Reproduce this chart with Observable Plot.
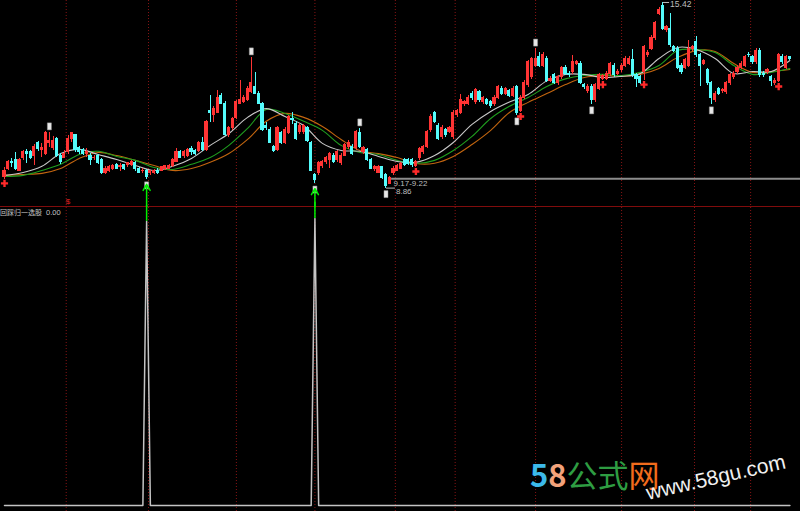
<!DOCTYPE html>
<html>
<head>
<meta charset="utf-8">
<script src="https://cdn.jsdelivr.net/npm/d3@7"></script>
<script src="https://cdn.jsdelivr.net/npm/@observablehq/plot@0.6"></script>
<style>
  html, body { margin: 0; padding: 0; background: #000; }
  #wrap { position: relative; width: 800px; height: 511px; overflow: hidden; background: #000; }
  #divider { position: absolute; left: 0; top: 206px; width: 800px; height: 1px; background: #800c0c; }
  #top, #bottom { position: absolute; left: 0; }
  #top { top: 0; }
  #bottom { top: 207px; }
  #ind-label { position: absolute; left: 0; top: 207px; color: #c4c4c4; font: 7px "Noto Sans CJK SC", sans-serif; white-space: nowrap; }
  #ind-label .num { font-family: "Liberation Sans", sans-serif; font-size: 7.5px; margin-left: 4px; }
  #brand { position: absolute; left: 0; top: 0; pointer-events: none; }
</style>
</head>
<body>
<div id="wrap">
  <div id="divider"></div>
  <div id="top"></div>
  <div id="bottom"></div>
  <div id="ind-label">回踩归一选股<span class="num">0.00</span></div>
  <svg id="brand" width="800" height="511">
    <text x="530" y="487" font-family="Noto Sans CJK SC" font-size="31" font-weight="bold"><tspan fill="#3cb9ea">5</tspan><tspan fill="#f3a27a">8</tspan><tspan fill="#2e9c42" font-weight="normal">公式</tspan><tspan fill="#f26c1c" font-weight="normal">网</tspan></text>
    <text x="648" y="500" transform="rotate(-13 648 500)" font-family="Liberation Sans" font-size="21" fill="#f0f0f0">www.58gu.com</text>
  </svg>
</div>
<script>
// Daily bars, one entry per trading day (index 0..210)
const opens = [
  9.27,9.55,9.80,9.84,9.48,9.91,10.12,10.12,10.01,10.44,
  10.19,10.08,10.47,10.26,10.61,10.01,9.94,10.12,10.61,10.72,
  10.26,10.19,10.08,9.98,9.91,9.98,9.84,9.41,9.45,9.55,
  9.66,9.59,9.66,9.66,9.66,9.73,9.55,9.45,9.48,9.38,
  9.38,9.48,9.48,9.52,9.55,9.63,9.80,10.12,9.98,10.01,
  10.23,10.16,10.16,10.47,10.19,11.60,11.43,11.53,12.13,11.85,
  10.72,10.97,11.32,11.85,11.89,11.96,12.24,12.45,12.20,11.85,
  11.07,10.93,10.30,10.19,10.79,10.47,10.79,11.29,11.14,10.83,
  10.83,10.97,10.44,9.31,9.38,9.63,9.77,9.84,10.01,9.84,
  9.73,10.01,10.30,10.33,10.26,10.79,10.12,10.19,9.84,9.52,
  9.41,9.59,9.31,9.02,9.38,9.48,9.55,9.84,9.84,9.84,
  9.63,9.91,10.12,10.33,10.90,11.50,11.07,10.65,10.90,10.86,
  10.65,11.43,11.50,11.82,11.85,12.20,11.89,12.24,11.89,11.96,
  11.89,11.82,12.06,12.38,12.20,12.28,12.13,12.42,11.60,12.06,
  12.49,12.77,13.19,13.48,13.19,13.44,12.66,12.84,12.56,12.77,
  13.12,12.91,12.95,13.26,13.26,12.49,12.28,12.45,11.96,12.38,
  12.73,12.73,12.88,13.19,12.91,13.02,13.19,13.26,13.37,12.84,
  12.77,12.95,13.55,13.79,14.15,15.03,15.31,14.43,14.50,13.83,
  13.79,13.19,13.12,13.19,13.76,14.01,13.55,13.26,13.02,12.56,
  11.96,12.35,12.28,12.24,12.56,12.77,12.95,13.12,13.19,13.58,
  13.48,13.30,13.72,12.91,12.95,12.77,12.56,12.66,13.51,13.12,
  13.48
];
const highs = [
  9.59,9.84,9.91,10.12,9.91,10.19,10.23,10.19,10.40,10.51,
  10.44,10.86,10.83,10.69,10.65,10.08,10.19,10.72,10.83,10.76,
  10.33,10.26,10.26,10.08,10.01,10.05,9.91,9.63,9.66,9.70,
  9.73,9.73,9.70,9.77,9.84,9.80,9.59,9.55,9.52,9.48,
  9.52,9.55,9.63,9.66,9.70,9.91,10.26,10.19,10.19,10.26,
  10.33,10.23,10.51,10.65,11.25,12.13,11.75,12.31,12.20,11.92,
  11.04,11.36,11.96,12.66,12.13,12.45,13.48,12.95,12.28,11.89,
  11.18,11.00,10.37,11.04,10.86,11.00,11.43,11.53,11.22,11.14,
  11.11,11.04,10.51,9.38,9.80,9.84,9.98,10.12,10.08,10.19,
  10.08,10.44,10.54,10.40,10.90,10.97,10.33,10.26,9.91,9.66,
  9.66,9.63,9.38,9.27,9.63,9.70,9.77,9.91,9.91,9.91,
  9.84,10.30,10.37,10.90,11.46,11.57,11.14,11.07,10.97,11.04,
  11.60,11.64,12.17,11.96,12.13,12.28,12.38,12.31,12.10,12.03,
  11.96,12.13,12.49,12.45,12.42,12.35,12.45,12.49,12.13,12.66,
  13.37,13.48,13.79,13.65,13.65,13.51,12.81,12.91,12.84,13.16,
  13.19,12.98,13.55,13.37,13.34,12.56,12.52,12.52,12.56,12.91,
  12.88,12.98,13.30,13.26,13.05,13.26,13.51,13.51,13.76,12.91,
  12.84,13.90,13.72,14.25,14.75,15.24,15.42,14.61,15.03,13.90,
  13.87,13.26,13.44,14.08,13.90,14.22,13.62,13.41,13.09,12.63,
  12.28,12.42,12.38,12.63,12.91,12.98,13.19,13.34,13.55,13.65,
  13.55,13.79,13.79,12.98,13.09,12.84,12.73,13.62,13.58,13.55,
  13.51
];
const lows = [
  9.17,9.48,9.59,9.48,9.45,9.84,9.73,9.87,9.66,10.16,
  9.94,10.01,10.30,10.19,9.94,9.70,9.91,10.05,10.47,10.12,
  10.05,10.01,9.94,9.66,9.84,9.70,9.34,9.34,9.41,9.48,
  9.52,9.45,9.48,9.59,9.63,9.45,9.38,9.38,9.17,9.31,
  9.34,9.34,9.45,9.48,9.52,9.59,9.77,9.91,9.91,9.94,
  10.01,10.01,10.12,10.16,10.16,11.18,11.18,11.50,11.82,10.69,
  10.65,10.90,11.29,11.82,11.85,11.92,12.20,12.17,11.82,10.86,
  10.90,10.44,10.12,10.16,10.40,10.40,10.76,11.11,10.54,10.76,
  10.76,10.47,9.45,9.02,9.31,9.55,9.70,9.55,9.73,9.77,
  9.66,9.98,10.23,10.01,10.19,10.26,10.05,9.80,9.52,9.45,
  9.38,9.17,8.86,8.99,9.31,9.45,9.52,9.63,9.66,9.59,
  9.59,9.84,10.05,10.26,10.83,11.14,10.54,10.58,10.65,10.79,
  10.58,11.36,11.46,11.75,11.78,11.96,11.82,11.89,11.82,11.78,
  11.67,11.75,11.99,12.13,12.13,12.06,12.06,11.43,11.53,11.99,
  12.42,12.70,13.12,13.12,13.12,12.59,12.59,12.52,12.49,12.70,
  12.84,12.77,12.88,13.19,12.52,12.35,12.20,11.82,11.89,12.31,
  12.66,12.66,12.81,12.77,12.84,12.95,13.12,13.19,12.77,12.42,
  12.52,12.66,13.48,13.72,14.08,14.96,14.43,14.36,13.83,13.65,
  13.05,12.88,13.05,13.12,13.69,13.48,12.45,13.19,12.49,11.82,
  11.89,12.13,12.20,12.17,12.49,12.70,12.88,13.05,13.12,13.48,
  13.23,13.23,12.77,12.77,12.88,12.45,12.49,12.59,13.23,13.05,
  13.37
];
const closes = [
  9.48,9.77,9.73,9.55,9.84,10.12,10.05,9.94,10.30,10.23,
  10.26,10.79,10.54,10.54,10.01,9.77,10.08,10.61,10.79,10.19,
  10.12,10.08,10.12,9.87,9.94,9.73,9.38,9.55,9.59,9.63,
  9.55,9.63,9.55,9.73,9.77,9.52,9.41,9.48,9.27,9.45,
  9.48,9.41,9.59,9.63,9.63,9.84,10.12,9.94,10.12,10.19,
  10.12,10.08,10.44,10.19,11.18,11.50,11.67,12.06,11.85,10.72,
  10.97,11.29,11.89,11.99,12.06,12.38,12.59,12.20,11.85,10.90,
  10.97,10.47,10.16,10.97,10.47,10.93,11.36,11.25,10.61,11.07,
  11.04,10.54,9.48,9.13,9.73,9.77,9.91,10.05,9.77,10.12,
  10.01,10.37,10.44,10.08,10.83,10.30,10.26,9.84,9.55,9.59,
  9.59,9.20,8.95,9.20,9.55,9.63,9.70,9.66,9.70,9.66,
  9.77,10.23,10.30,10.83,11.39,11.18,10.61,11.00,10.72,10.97,
  11.53,11.57,11.96,11.89,12.06,12.03,12.31,11.96,12.03,11.85,
  11.75,12.06,12.42,12.20,12.35,12.13,12.38,11.50,12.06,12.59,
  13.30,13.41,13.44,13.19,13.58,12.66,12.73,12.59,12.77,13.09,
  12.91,12.84,13.30,13.30,12.59,12.42,12.45,11.96,12.49,12.84,
  12.81,12.91,13.23,12.84,12.98,13.19,13.44,13.44,12.84,12.73,
  12.59,13.83,13.65,14.18,14.68,15.17,14.50,14.54,13.90,13.72,
  13.12,12.95,13.37,13.79,13.83,13.55,13.19,13.34,12.56,12.03,
  12.20,12.20,12.31,12.56,12.84,12.91,13.12,13.26,13.48,13.55,
  13.30,13.72,12.84,12.84,13.02,12.63,12.66,13.55,13.30,13.48,
  13.44
];

// Moving-average readings, sampled every 5 bars
const maIndex = [0,5,10,15,20,25,30,35,40,45,50,55,60,65,70,75,80,85,90,95,100,105,110,115,120,125,130,135,140,145,150,155,160,165,170,175,180,185,190,195,200,205,210];
const maFast = [9.31,9.41,9.63,10.08,10.23,10.05,9.87,9.66,9.48,9.63,9.91,10.37,10.79,11.36,11.67,11.39,11.07,10.44,10.19,10.16,9.98,9.80,9.77,10.01,10.47,11.11,11.57,11.90,12.17,12.65,12.88,12.88,12.77,12.81,12.91,13.44,13.83,13.76,13.44,12.91,12.98,12.98,13.37];
const maMid  = [9.27,9.31,9.48,9.70,10.05,10.16,9.98,9.84,9.59,9.52,9.70,9.94,10.37,10.97,11.64,11.50,11.22,10.90,10.37,10.12,10.05,9.84,9.73,9.84,10.19,10.69,11.32,11.75,12.06,12.45,12.72,12.84,12.88,12.84,12.95,13.19,13.72,13.76,13.65,13.19,12.88,12.95,13.09];
const maSlow = [9.31,9.34,9.38,9.55,9.91,10.12,10.01,9.84,9.66,9.48,9.55,9.77,10.08,10.58,11.22,11.50,11.36,11.04,10.58,10.19,10.08,9.94,9.73,9.74,9.98,10.40,10.90,11.53,11.89,12.20,12.52,12.77,12.84,12.81,12.88,13.09,13.48,13.72,13.69,13.26,12.95,12.98,13.05];

// Month boundaries (bar positions)
const monthBreaks = [16.5, 38.5, 62, 83, 104.5, 120.5, 142, 165, 184.5, 199.5];

// Marked swing highs / lows, buy crosses, screener hits
const swingHighs = [12, 66, 95, 142];
const swingLows = [38, 83, 102, 137, 157, 189];
const buyMarks = [0, 110, 138, 160, 171, 207];
const sellMarks = [17];
const signalIdx = [38, 83];
const signalVal = [0.99, 1.00];
const maxBar = 176, minBar = 102;
const band = {from: 103.5, lo: 9.17, hi: 9.22};

const candles = opens.map((o, i) => ({i, open: o, high: highs[i], low: lows[i], close: closes[i]}));
const lastBar = candles.length - 1;
const signal = candles.map(d => {
  const k = signalIdx.indexOf(d.i);
  return {i: d.i, v: k >= 0 ? signalVal[k] : 0};
});

const UP = "#ff3434", DOWN = "#54fcfc";
const tone = d => d.close >= d.open ? UP : DOWN;
const xScale = {domain: [0, 210], range: [4, 789.4]};
const labelFont = '"Liberation Sans Narrow", "Liberation Sans", sans-serif';
const box = {draw(ctx) { ctx.rect(-2, -3.5, 4, 7); }};

const maLine = (vals, color) => Plot.line(maIndex, {
  x: d => d, y: (d, k) => vals[k], stroke: color, strokeWidth: 1.1, curve: "catmull-rom"
});

const topChart = Plot.plot({
  width: 800, height: 207, margin: 0,
  style: {background: "transparent", overflow: "visible"},
  x: {...xScale, axis: null},
  y: {domain: [8.21, 15.49], range: [206, 0], axis: null},
  marks: [
    Plot.ruleX(monthBreaks, {x: d => d, stroke: "#861414", strokeDasharray: "1,2"}),
    // band line runs from its start bar to the right edge
    Plot.ruleY([band], {y: d => (d.lo + d.hi) / 2, x1: d => d.from, x2: () => lastBar, insetRight: -12,
      stroke: "#8c8c8c", strokeWidth: 2}),
    Plot.text([band], {x: d => d.from, y: d => (d.lo + d.hi) / 2, text: d => `${d.lo.toFixed(2)}-${d.hi.toFixed(2)}`,
      dx: 2, dy: 5, textAnchor: "start", fill: "#bdbdbd", fontSize: 8, fontFamily: labelFont}),
    maLine(maSlow, "#c2650f"),
    maLine(maMid, "#1f9e1f"),
    maLine(maFast, "#c8c8c8"),
    Plot.ruleX(candles, {x: "i", y1: "low", y2: "high", stroke: tone, strokeWidth: 1, shapeRendering: "crispEdges"}),
    Plot.rect(candles, {x1: d => d.i - 0.42, x2: d => d.i + 0.42, y1: "open", y2: "close", fill: tone,
      insetTop: -0.5, insetBottom: -0.5, shapeRendering: "crispEdges"}),
    Plot.dot(swingHighs, {x: d => d, y: d => highs[d], dy: -6, symbol: box, fill: "#e8e8e8", stroke: "#9a9a9a", strokeWidth: 0.5}),
    Plot.dot(swingLows, {x: d => d, y: d => lows[d], dy: 6, symbol: box, fill: "#e8e8e8", stroke: "#9a9a9a", strokeWidth: 0.5}),
    Plot.dot(buyMarks, {x: d => d, y: d => lows[d], dy: 4, symbol: "cross", r: 3, fill: "#ff2a2a"}),
    Plot.text(sellMarks, {x: d => d, y: 8.21, text: () => "$", dy: -5, fill: "#e02020", fontSize: 8, fontFamily: labelFont}),
    // price extremes with leader lines
    Plot.link([maxBar], {x1: d => d, x2: d => d + 1.7, y1: d => highs[d], y2: d => highs[d], stroke: "#bdbdbd"}),
    Plot.text([maxBar], {x: d => d + 1.7, y: d => highs[d], text: d => highs[d].toFixed(2), dx: 1, dy: 2,
      textAnchor: "start", fill: "#bdbdbd", fontSize: 8.5, fontFamily: labelFont}),
    Plot.link([minBar], {x1: d => d, x2: d => d + 2.4, y1: d => lows[d], y2: d => lows[d], stroke: "#bdbdbd"}),
    Plot.text([minBar], {x: d => d + 2.4, y: d => lows[d], text: d => lows[d].toFixed(2), dx: 1, dy: 3.5,
      textAnchor: "start", fill: "#bdbdbd", fontSize: 8, fontFamily: labelFont}),
    // screener hit arrows rising from the indicator pane
    Plot.arrow(signalIdx, {x: d => d, y1: 8.21, y2: d => lows[d], insetEnd: 5, stroke: "#00f000", strokeWidth: 1.5, headLength: 7})
  ]
});

const bottomChart = Plot.plot({
  width: 800, height: 304, margin: 0,
  style: {background: "transparent", overflow: "visible"},
  x: {...xScale, axis: null},
  y: {domain: [0, 1], range: [298, 11], axis: null},
  marks: [
    Plot.ruleX(monthBreaks, {x: d => d, stroke: "#861414", strokeDasharray: "1,2"}),
    Plot.line(signal, {x: "i", y: "v", stroke: "#c4c4c4", strokeWidth: 1.5}),
    // green stems continue the arrows from each spike tip to the pane top
    Plot.ruleX(signalIdx, {x: d => d, y1: (d, k) => signalVal[k], y2: (d, k) => signalVal[k],
      insetTop: -16, stroke: "#00f000", strokeWidth: 1.5})
  ]
});

document.getElementById("top").appendChild(topChart);
document.getElementById("bottom").appendChild(bottomChart);
</script>
</body>
</html>
